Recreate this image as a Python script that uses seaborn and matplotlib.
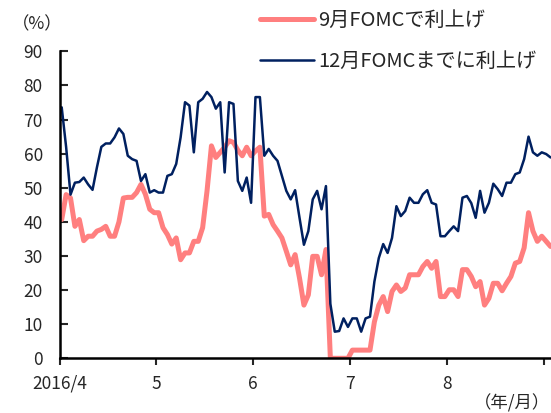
import numpy as np
import pandas as pd
import seaborn as sns
import matplotlib.pyplot as plt

# FedWatch-style hike probabilities (%), business days from 2016/4/1
sept_hike = [40.7, 48, 47, 38.7, 40.7, 34.5, 35.8, 35.8, 37.3, 37.8,
             38.7, 35.8, 35.8, 40, 47, 47.2, 47.2, 48.6, 51, 48.1,
             43.7, 42.7, 42.7, 38.3, 36.3, 33.5, 35.3, 28.9, 30.9, 30.9,
             34.3, 34.3, 38.3, 49.1, 62.3, 58.9, 60.4, 61.9, 63.8, 63.3,
             61, 59.4, 61.9, 59.4, 60.8, 61.9, 41.7, 42.2, 39.2, 37.3,
             35.3, 31.4, 27.4, 30.4, 23.5, 15.6, 18.6, 29.9, 29.9, 24.5,
             31.9, 0, 0, 0, 0, 0, 2.4, 2.4, 2.4, 2.4,
             2.4, 10.7, 15.6, 18.1, 13.7, 19.6, 21.5, 19.6, 20.6, 24.5,
             24.5, 24.5, 26.9, 28.4, 26.4, 28.4, 18.1, 18.1, 20.1, 20.1,
             18.1, 26, 26, 24, 21, 22.5, 15.6, 17.6, 22, 22,
             19.8, 22, 24, 27.9, 28.4, 32.4, 42.7, 37.3, 34.3, 35.8,
             34.3, 32.8]

dec_hike = [73.6, 62, 48, 51.5, 51.7, 53, 51, 49.4, 56, 62,
            63, 63, 64.8, 67.4, 65.8, 59.4, 58.4, 57.9, 52, 54,
            48.6, 49.3, 48.6, 48.6, 53.5, 54, 57, 64.8, 75.1, 74.1,
            60.4, 75.1, 76.1, 78.1, 76.6, 73.2, 75.1, 54.5, 75.1, 74.6,
            52, 49.1, 53, 45.6, 76.6, 76.6, 59.4, 61.4, 59.4, 57.9,
            53.5, 49.1, 46.6, 49.3, 41.2, 33.3, 37.3, 46.6, 49.1, 43.7,
            50.5, 16, 7.8, 8, 11.7, 9.2, 11.7, 11.7, 7.8, 11.7,
            12.2, 22.5, 29.4, 33.5, 30.9, 35.3, 44.6, 41.7, 43.2, 47.1,
            45.6, 45.6, 48.1, 49.3, 45.6, 45.1, 35.8, 35.8, 37.3, 38.7,
            37.3, 47.1, 47.6, 45.5, 41.2, 49.1, 42.7, 45.6, 51.2, 49.6,
            47.6, 51.5, 51.5, 54, 54.5, 58.4, 65, 60.4, 59.4, 60.4,
            59.9, 58.9]

series_names = ["9月FOMCで利上げ", "12月FOMCまでに利上げ"]
month_labels = ["2016/4", "5", "6", "7", "8", ""]
days_per_tick = 22

df = pd.DataFrame({"day": np.arange(len(sept_hike)),
                   series_names[0]: sept_hike,
                   series_names[1]: dec_hike})

sns.set_style("ticks")
plt.rcParams["font.family"] = ["Noto Sans CJK JP", "DejaVu Sans"]
plt.rcParams["font.size"] = 12

fig = plt.figure(figsize=(5.51, 4.13), dpi=100)
ax = fig.add_axes([59.5 / 551, (413 - 358.3) / 413, (551 - 59.5) / 551, (358.3 - 51.4) / 413])

sns.lineplot(data=df, x="day", y=series_names[0], ax=ax, color="#FF7F7F",
             linewidth=3.6, label=series_names[0])
sns.lineplot(data=df, x="day", y=series_names[1], ax=ax, color="#002060",
             linewidth=1.8, label=series_names[1])

ax.set_xlim(-0.5, 111.1)
ax.set_ylim(0, 90)
ax.set_yticks(range(0, 91, 10))
ax.set_xticks([-0.5 + days_per_tick * k for k in range(len(month_labels))])
ax.set_xticklabels(month_labels)
ax.set_xlabel("")
ax.set_ylabel("")

for side in ["top", "right"]:
    ax.spines[side].set_visible(False)
for side in ["left", "bottom"]:
    ax.spines[side].set_linewidth(1.8)
    ax.spines[side].set_color("black")

ax.tick_params(axis="x", direction="out", length=5, width=1.5, pad=7, labelsize=12.5)
ax.tick_params(axis="y", direction="in", length=6, width=1.5, pad=12, labelsize=12.5)

handles, labels = ax.get_legend_handles_labels()
ax.get_legend().remove()
fig.legend(handles, labels, loc="upper left", bbox_to_anchor=(260 / 551, 1 - 10 / 413),
           frameon=False, fontsize=14.5, handlelength=2.7, handletextpad=0.2,
           labelspacing=1.0, borderpad=0, borderaxespad=0)

fig.text(12 / 551, 1 - 24 / 413, "（%）", fontsize=12.5, va="center", ha="left")
fig.text(550 / 551, 1 - 403 / 413, "（年/月）", fontsize=12.5, va="center", ha="right")

fig.savefig("out.png", dpi=100)
